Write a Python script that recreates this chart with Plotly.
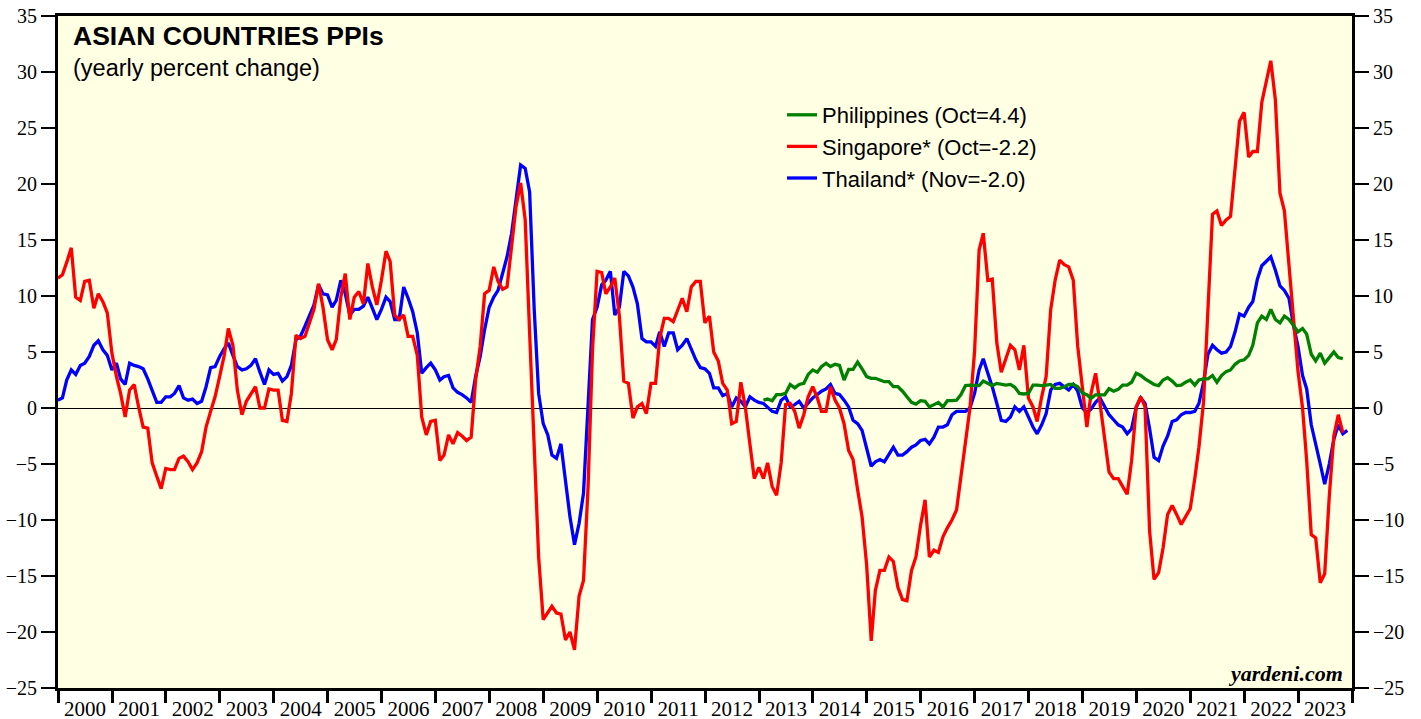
import pandas as pd
import plotly.graph_objects as go

# Monthly values (month-end dates), Singapore & Thailand start Dec-1999, Philippines start Jan-2013
SINGAPORE = [
    11.6, 11.9, 13.0, 14.3, 9.9, 9.6, 11.3, 11.4, 8.9, 10.2, 9.5, 8.5,
    4.9, 2.8, 1.3, -0.8, 1.6, 2.1, 0.1, -1.7, -1.8, -4.9, -6.1, -7.2,
    -5.4, -5.5, -5.5, -4.5, -4.3, -4.8, -5.5, -4.9, -3.9, -1.7, -0.3, 1.0,
    2.8, 4.7, 7.1, 5.6, 1.6, -0.6, 0.6, 1.2, 1.9, 0.0, 0.0, 1.7,
    1.6, 1.6, -1.1, -1.2, 1.3, 6.5, 6.2, 6.4, 7.6, 8.8, 11.1, 9.0,
    6.1, 5.2, 6.1, 9.9, 12.0, 7.9, 9.9, 10.4, 9.3, 12.9, 10.8, 9.2,
    11.4, 14.0, 13.1, 8.3, 7.9, 8.3, 6.4, 6.4, 4.7, -0.8, -2.4, -1.2,
    -1.1, -4.7, -4.2, -2.4, -3.2, -2.2, -2.5, -2.9, -2.6, 2.5, 5.5, 10.2,
    10.5, 12.6, 11.3, 10.6, 10.8, 14.4, 18.0, 20.1, 16.8, 6.7, -3.2, -13.3,
    -18.9, -18.3, -17.7, -18.3, -18.4, -20.7, -20.0, -21.6, -16.8, -15.4, -7.0, 5.2,
    12.2, 12.1, 10.2, 10.8, 11.6, 8.2, 2.4, 2.2, -0.9, 0.1, 0.4, -0.5,
    2.2, 2.2, 6.2, 8.0, 8.0, 7.7, 8.8, 9.8, 8.6, 10.8, 11.3, 11.3,
    7.6, 8.2, 5.0, 4.2, 2.2, 1.6, -1.4, -1.2, 2.3, 0.1, -3.2, -6.3,
    -5.3, -6.3, -4.9, -7.0, -7.8, -4.9, 0.3, 0.4, -0.3, -1.8, -0.6, 1.0,
    1.9, 0.9, -0.3, -0.3, 1.9, 0.7, 0.0, -1.4, -3.8, -4.6, -7.3, -9.7,
    -14.0, -20.8, -16.3, -14.5, -14.5, -13.3, -13.7, -16.0, -17.1, -17.2, -14.5, -13.3,
    -10.5, -8.2, -13.3, -12.7, -12.9, -11.5, -10.7, -10.0, -9.1, -6.0, -3.0, 0.0,
    5.0, 14.1, 15.6, 11.4, 11.5, 5.8, 3.2, 4.4, 5.6, 5.2, 3.4, 5.6,
    0.9, 0.1, -1.2, 1.0, 2.8, 8.8, 11.4, 13.2, 12.8, 12.6, 11.4, 5.5,
    2.0, -1.7, 1.3, 3.1, 0.4, -2.8, -5.7, -6.3, -6.3, -7.0, -7.7, -4.7,
    0.1, 1.0, 0.1, -11.0, -15.3, -14.7, -12.5, -9.5, -8.7, -9.5, -10.4, -9.7,
    -9.0, -6.3, -3.5, 0.5, 9.0, 17.3, 17.6, 16.3, 16.8, 17.1, 21.4, 25.6,
    26.4, 22.4, 22.9, 22.9, 27.3, 29.2, 31.0, 27.5, 19.2, 17.6, 12.8, 8.0,
    3.3, 0.0, -4.7, -11.3, -11.6, -15.6, -14.8, -7.9, -2.5, -0.6, -2.2,
]

THAILAND = [
    0.7, 0.9, 2.5, 3.4, 3.0, 3.8, 4.0, 4.6, 5.6, 6.0, 5.2, 4.7,
    3.4, 4.0, 2.6, 2.1, 4.0, 3.8, 3.7, 3.5, 2.6, 1.6, 0.5, 0.5,
    1.0, 1.0, 1.3, 2.0, 0.9, 0.7, 0.8, 0.4, 0.6, 1.9, 3.6, 3.7,
    4.6, 5.3, 5.8, 4.7, 3.7, 3.4, 3.5, 3.8, 4.4, 3.2, 2.1, 3.4,
    3.0, 3.1, 2.4, 2.8, 3.8, 6.1, 6.4, 7.3, 8.2, 9.2, 11.0, 10.2,
    10.1, 9.0, 9.6, 11.4, 10.2, 8.3, 8.8, 8.8, 9.1, 9.9, 8.9, 7.9,
    8.8, 9.9, 9.5, 7.9, 7.9, 10.8, 9.8, 8.6, 6.7, 3.1, 3.6, 4.0,
    3.4, 2.5, 2.8, 2.9, 1.8, 1.4, 1.2, 0.9, 0.5, 2.8, 4.6, 7.0,
    9.0, 9.9, 10.5, 12.0, 13.5, 15.6, 18.9, 21.7, 21.4, 19.3, 8.8, 1.3,
    -1.4, -2.4, -4.2, -4.5, -3.2, -6.7, -9.7, -12.2, -10.3, -7.6, -0.2, 7.9,
    9.0, 11.0, 11.4, 12.2, 8.3, 9.0, 12.2, 11.8, 10.8, 9.3, 6.2, 5.9,
    5.9, 5.5, 6.8, 5.5, 6.7, 6.7, 5.2, 5.6, 6.2, 5.3, 4.3, 3.6,
    3.5, 3.1, 1.8, 1.8, 1.1, 1.3, 0.1, 0.9, 0.6, 0.1, 1.0, 0.7,
    0.5, 0.4, 0.1, -0.3, -0.4, 0.7, 1.0, 0.1, 0.3, 0.6, 0.0, 0.4,
    0.9, 1.2, 1.5, 1.7, 2.1, 1.3, 1.2, 0.7, 0.1, -1.1, -1.4, -2.0,
    -3.5, -5.2, -4.8, -4.6, -4.8, -4.2, -3.5, -4.2, -4.2, -3.9, -3.5, -3.3,
    -2.9, -2.8, -3.2, -2.6, -1.7, -1.7, -1.5, -0.6, -0.3, -0.3, -0.3, 0.0,
    1.3, 3.4, 4.4, 3.1, 1.9, 0.4, -1.1, -1.2, -0.8, 0.1, -0.3, 0.1,
    -0.8, -1.7, -2.3, -1.5, -0.5, 1.6, 2.1, 2.2, 1.9, 1.6, 2.1, 1.5,
    0.0, -0.4, -0.1, 0.5, 0.9, 0.1, -0.6, -1.05, -1.5, -1.7, -2.3, -1.85,
    0.06, 0.9, 0.4, -1.85, -4.4, -4.7, -3.4, -2.5, -1.2, -1.05, -0.6, -0.4,
    -0.4, -0.3, 0.4, 2.3, 4.8, 5.6, 5.2, 4.9, 5.0, 5.5, 6.8, 8.4,
    8.2, 9.0, 9.5, 11.5, 12.7, 13.1, 13.5, 12.3, 10.9, 10.5, 9.8, 7.4,
    5.5, 2.9, 1.7, -1.5, -3.4, -5.0, -6.8, -5.0, -2.8, -1.5, -2.3, -2.0,
]

PHILIPPINES = [
    0.7, 0.8, 0.65, 1.2, 1.2, 1.3, 2.1, 1.8, 2.1, 2.2, 3.0,
    3.4, 3.2, 3.7, 4.0, 3.7, 3.9, 3.8, 2.5, 3.45, 3.45, 4.1, 3.5,
    2.8, 2.65, 2.65, 2.5, 2.35, 2.35, 1.9, 1.9, 1.5, 1.0, 0.5, 0.35,
    0.65, 0.6, 0.1, 0.3, 0.5, 0.1, 0.65, 0.65, 0.7, 1.2, 2.0, 2.05,
    2.05, 2.0, 2.4, 2.2, 2.0, 2.2, 2.1, 2.05, 2.1, 1.85, 1.3, 1.25,
    1.3, 2.05, 2.05, 2.0, 2.05, 2.1, 1.75, 1.75, 1.9, 2.1, 2.1, 1.9,
    1.34, 1.18, 0.86, 1.18, 1.18, 1.18, 1.72, 1.5, 1.66, 2.04, 2.04, 2.3,
    3.1, 2.9, 2.6, 2.3, 2.1, 2.0, 2.5, 2.7, 2.4, 2.0, 2.04, 2.3,
    2.5, 2.04, 2.5, 2.6, 2.6, 2.9, 2.3, 2.9, 3.25, 3.4, 3.9, 4.2,
    4.3, 4.7, 5.6, 7.6, 8.2, 7.9, 8.8, 7.9, 7.6, 8.2, 7.9, 7.4,
    6.8, 7.1, 6.6, 4.8, 4.2, 4.9, 4.0, 4.5, 5.0, 4.5, 4.4,
]

NAMES = {
    "PHL": "Philippines (Oct=4.4)",
    "SGP": "Singapore* (Oct=-2.2)",
    "THA": "Thailand* (Nov=-2.0)",
}
COLORS = {"PHL": "#008000", "SGP": "#FF0000", "THA": "#0000FF"}


def month_ends(start, n):
    try:
        return pd.date_range(start, periods=n, freq="ME")
    except ValueError:
        return pd.date_range(start, periods=n, freq="M")


d_sgp = month_ends("1999-12-31", len(SINGAPORE))
d_tha = month_ends("1999-12-31", len(THAILAND))
d_phl = month_ends("2013-01-31", len(PHILIPPINES))

fig = go.Figure()
LW = 3.3
fig.add_trace(go.Scatter(x=d_tha, y=THAILAND, mode="lines", name=NAMES["THA"],
                         line=dict(color=COLORS["THA"], width=LW)))
fig.add_trace(go.Scatter(x=d_sgp, y=SINGAPORE, mode="lines", name=NAMES["SGP"],
                         line=dict(color=COLORS["SGP"], width=LW)))
# Philippines on the (identical) right-hand axis so that axis is rendered
fig.add_trace(go.Scatter(x=d_phl, y=PHILIPPINES, mode="lines", name=NAMES["PHL"],
                         yaxis="y2", line=dict(color=COLORS["PHL"], width=LW)))

serif = "Liberation Serif, Times New Roman, serif"
sans = "Liberation Sans, Arial, sans-serif"

yaxis_common = dict(
    range=[-25, 35], dtick=5, tick0=0,
    ticks="outside", ticklen=14, tickwidth=1.5, tickcolor="black",
    showline=True, linecolor="black", linewidth=3,
    showgrid=False, tickfont=dict(family=serif, size=20, color="black"),
    fixedrange=True, automargin=False,
)

fig.update_layout(
    width=1421, height=719,
    margin=dict(l=58, r=69, t=16, b=31, autoexpand=False),
    paper_bgcolor="white",
    plot_bgcolor="#FFFFE4",
    showlegend=True,
    legend=dict(
        x=(782 - 58) / 1294, y=1 - (94 - 16) / 672, xanchor="left", yanchor="top",
        bgcolor="rgba(0,0,0,0)", traceorder="reversed",
        font=dict(family=sans, size=22, color="black"),
        itemwidth=30,
    ),
    xaxis=dict(
        type="date",
        range=["2000-01-01", "2024-01-01"],
        dtick="M12", tick0="2000-01-01",
        ticklabelmode="period", tickformat="%Y",
        ticks="outside", ticklen=12, tickwidth=2.5, tickcolor="black",
        showline=True, linecolor="black", linewidth=3, mirror=True,
        showgrid=False, zeroline=False, automargin=False,
        ticklabelstandoff=-12,
        tickfont=dict(family=serif, size=21, color="black"),
    ),
    yaxis=dict(side="left", zeroline=True, zerolinecolor="black",
               zerolinewidth=1.2, **yaxis_common),
    yaxis2=dict(side="right", overlaying="y", zeroline=False, **yaxis_common),
    annotations=[
        dict(text="<b>ASIAN COUNTRIES PPIs</b>", xref="paper", yref="paper",
             x=(71 - 58) / 1294, y=1 - (36 - 16) / 672, xanchor="left", yanchor="middle",
             showarrow=False, font=dict(family=sans, size=26.5, color="black")),
        dict(text="(yearly percent change)", xref="paper", yref="paper",
             x=(71 - 58) / 1294, y=1 - (68 - 16) / 672, xanchor="left", yanchor="middle",
             showarrow=False, font=dict(family=sans, size=23.5, color="black")),
        dict(text="<b><i>yardeni.com</i></b>", xref="paper", yref="paper",
             x=(1345 - 58) / 1294, y=1 - (673 - 16) / 672, xanchor="right",
             yanchor="middle", showarrow=False,
             font=dict(family=serif, size=22, color="black")),
    ],
)

fig.write_html(
    "out.html",
    config={"displayModeBar": False},
    post_script="document.body.style.margin='0px';document.body.style.overflow='hidden';",
)
